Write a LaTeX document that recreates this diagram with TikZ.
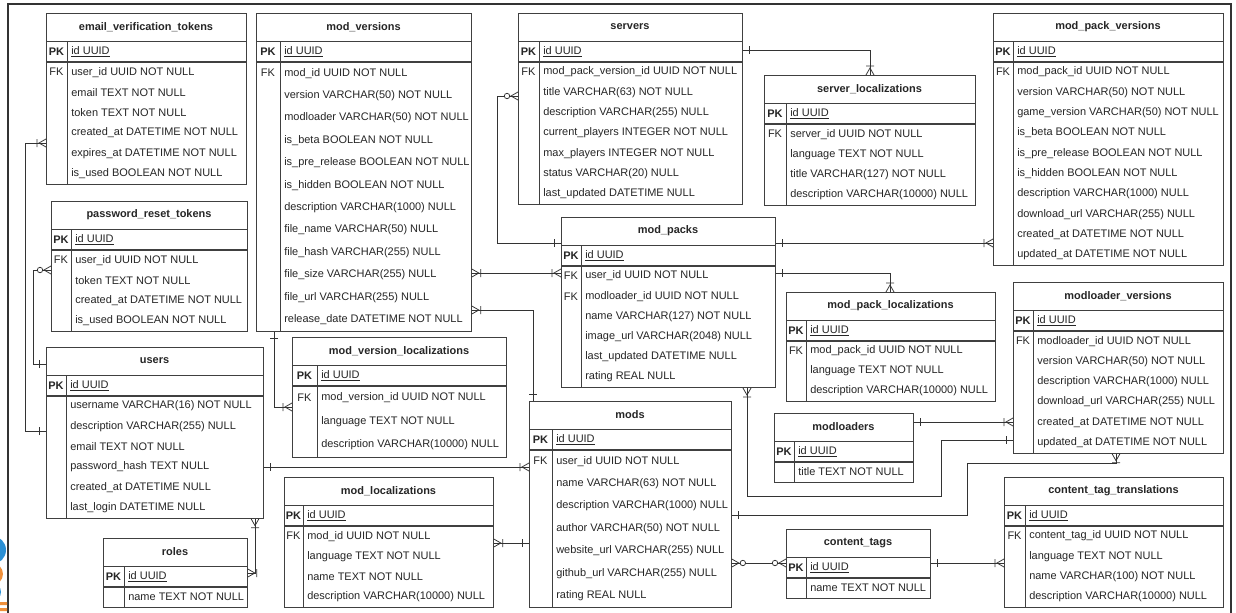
\documentclass[tikz,border=0pt]{standalone}
\usepackage{fontspec}
\setmainfont{Liberation Sans}
\usetikzlibrary{decorations.markings}

\newcommand{\erfont}{\fontsize{7.8}{9}\selectfont}

% name, x, y, width, key column, row height, rows, title, fields
\newcommand{\erbox}[9]{%
  \pgfmathsetmacro{\erh}{49+#7*#6}
  \node[tablebox, minimum width=#4*0.025cm, minimum height=\erh*0.025cm] (#1) at (#2,#3) {};
  \begin{scope}[shift={(#2,#3)}]
    \draw[tableline] (0,28) -- (#4,28) (#5,28) -- (#5,\erh);
    \draw[pkline] (0,49) -- (#4,49);
    \node[titletext] (#1-t) at (#4/2,14) {#8};
    \node[keytext] (#1-pk) at (#5/2,38.5) {\textbf{PK}};
    \node[fieldtext] (#1-id) at (#5+4,38.5) {\underline{id UUID}};
    \foreach \erkey/\erfield [count=\i] in {#9}
      \node[keytext] (#1-k\i) at (#5/2,{49+(\i-0.5)*#6}) {\erkey}
        node[fieldtext] (#1-f\i) at (#5+4,{49+(\i-0.5)*#6}) {\erfield};
  \end{scope}
}

\begin{document}
\begin{tikzpicture}[x=0.025cm, y=-0.025cm]
  \definecolor{logoblue}{HTML}{2B8FD3}
  \definecolor{logoorange}{HTML}{F0903A}
  \tikzset{
    tablebox/.style={draw=black!75, fill=white, line width=0.6pt, inner sep=0pt, anchor=north west},
    tableline/.style={draw=black!75, line width=0.6pt},
    pkline/.style={draw=black!75, line width=1pt},
    titletext/.style={font=\erfont\bfseries, text=black!85, inner sep=0pt},
    keytext/.style={font=\erfont, text=black!85, inner sep=0pt},
    fieldtext/.style={font=\erfont, text=black!85, inner sep=0pt, anchor=west},
    rel/.style={draw=black!80, line width=0.55pt},
    erline/.style={draw=black!80, line width=0.55pt},
    mk/.style 2 args={postaction={decorate, decoration={markings, mark=at position #1 with {#2}}}},
    start one/.style={mk={0}{\draw[erline] (7,-4) -- (7,4);}},
    end one/.style={mk={1}{\draw[erline] (-7,-4) -- (-7,4);}},
    start onemany/.style={mk={0}{\draw[erline] (0,-4) -- (7,0) -- (0,4) (9,-4) -- (9,4);}},
    end onemany/.style={mk={1}{\draw[erline] (0,-4) -- (-7,0) -- (0,4) (-9,-4) -- (-9,4);}},
    start zeromany/.style={mk={0}{\draw[erline] (0,-4) -- (7,0) -- (0,4); \filldraw[erline, fill=white] (11,0) circle (2.7);}},
    end zeromany/.style={mk={1}{\draw[erline] (0,-4) -- (-7,0) -- (0,4); \filldraw[erline, fill=white] (-11,0) circle (2.7);}}
  }
  \useasboundingbox (0,0) rectangle (1236,612);

  % frame and logo
  \draw[black!80, line width=1.2pt] (8,640) -- (8,4) -- (1231,4) -- (1231,640);
  \begin{scope}
    \clip (0,530) rectangle (7,612);
    \fill[logoblue] (-8,550) circle (14);
    \fill[logoorange] (-8,574) circle (11);
    \fill[logoblue] (-8,592) circle (9);
    \fill[logoorange] (0,602) rectangle (7,605) (0,608) rectangle (7,611);
  \end{scope}

  \erbox{evt}{46}{13}{200}{21}{20.3}{6}{email\_verification\_tokens}{FK/user\_id UUID NOT NULL, /email TEXT NOT NULL, /token TEXT NOT NULL, /created\_at DATETIME NOT NULL, /expires\_at DATETIME NOT NULL, /is\_used BOOLEAN NOT NULL}
  \erbox{modver}{256}{13}{215}{24}{22.4}{12}{mod\_versions}{FK/mod\_id UUID NOT NULL, /version VARCHAR(50) NOT NULL, /modloader VARCHAR(50) NOT NULL, /is\_beta BOOLEAN NOT NULL, /is\_pre\_release BOOLEAN NOT NULL, /is\_hidden BOOLEAN NOT NULL, /description VARCHAR(1000) NULL, /file\_name VARCHAR(50) NULL, /file\_hash VARCHAR(255) NULL, /file\_size VARCHAR(255) NULL, /file\_url VARCHAR(255) NULL, /release\_date DATETIME NOT NULL}
  \erbox{servers}{518}{13}{224}{21}{20.3}{7}{servers}{FK/mod\_pack\_version\_id UUID NOT NULL, /title VARCHAR(63) NOT NULL, /description VARCHAR(255) NULL, /current\_players INTEGER NOT NULL, /max\_players INTEGER NOT NULL, /status VARCHAR(20) NULL, /last\_updated DATETIME NULL}
  \erbox{serverloc}{764}{75}{211}{22}{20.3}{4}{server\_localizations}{FK/server\_id UUID NOT NULL, /language TEXT NOT NULL, /title VARCHAR(127) NOT NULL, /description VARCHAR(10000) NULL}
  \erbox{mpver}{993}{13}{230}{20}{20.3}{10}{mod\_pack\_versions}{FK/mod\_pack\_id UUID NOT NULL, /version VARCHAR(50) NOT NULL, /game\_version VARCHAR(50) NOT NULL, /is\_beta BOOLEAN NOT NULL, /is\_pre\_release BOOLEAN NOT NULL, /is\_hidden BOOLEAN NOT NULL, /description VARCHAR(1000) NULL, /download\_url VARCHAR(255) NULL, /created\_at DATETIME NOT NULL, /updated\_at DATETIME NOT NULL}
  \erbox{prt}{51}{201}{196}{20}{20.3}{4}{password\_reset\_tokens}{FK/user\_id UUID NOT NULL, /token TEXT NOT NULL, /created\_at DATETIME NOT NULL, /is\_used BOOLEAN NOT NULL}
  \erbox{users}{46}{347}{217}{20}{20.3}{6}{users}{/username VARCHAR(16) NOT NULL, /description VARCHAR(255) NULL, /email TEXT NOT NULL, /password\_hash TEXT NULL, /created\_at DATETIME NULL, /last\_login DATETIME NULL}
  \erbox{roles}{103}{538}{144}{21}{20}{1}{roles}{/name TEXT NOT NULL}
  \erbox{modverloc}{292}{337}{214}{25}{23.5}{3}{mod\_version\_localizations}{FK/mod\_version\_id UUID NOT NULL, /language TEXT NOT NULL, /description VARCHAR(10000) NULL}
  \erbox{modloc}{284}{477}{209}{19}{20.3}{4}{mod\_localizations}{FK/mod\_id UUID NOT NULL, /language TEXT NOT NULL, /name TEXT NOT NULL, /description VARCHAR(10000) NULL}
  \erbox{mpacks}{561}{217}{214}{20}{20.2}{6}{mod\_packs}{FK/user\_id UUID NOT NULL, FK/modloader\_id UUID NOT NULL, /name VARCHAR(127) NOT NULL, /image\_url VARCHAR(2048) NULL, /last\_updated DATETIME NULL, /rating REAL NULL}
  \erbox{mpackloc}{786}{292}{209}{20}{20}{3}{mod\_pack\_localizations}{FK/mod\_pack\_id UUID NOT NULL, /language TEXT NOT NULL, /description VARCHAR(10000) NULL}
  \erbox{modloaders}{774}{413}{139}{20}{20}{1}{modloaders}{/title TEXT NOT NULL}
  \erbox{mlver}{1013}{282}{210}{20}{20.3}{6}{modloader\_versions}{FK/modloader\_id UUID NOT NULL, /version VARCHAR(50) NOT NULL, /description VARCHAR(1000) NULL, /download\_url VARCHAR(255) NULL, /created\_at DATETIME NOT NULL, /updated\_at DATETIME NOT NULL}
  \erbox{mods}{529}{401}{202}{23}{22.4}{7}{mods}{FK/user\_id UUID NOT NULL, /name VARCHAR(63) NOT NULL, /description VARCHAR(1000) NULL, /author VARCHAR(50) NOT NULL, /website\_url VARCHAR(255) NULL, /github\_url VARCHAR(255) NULL, /rating REAL NULL}
  \erbox{ctags}{786}{529}{144}{20}{20}{1}{content\_tags}{/name TEXT NOT NULL}
  \erbox{cttrans}{1004}{477}{219}{21}{20.3}{4}{content\_tag\_translations}{FK/content\_tag\_id UUID NOT NULL, /language TEXT NOT NULL, /name VARCHAR(100) NOT NULL, /description VARCHAR(10000) NULL}

  % relations
  \draw[rel, start one, end onemany] (users.west |- 0,431) -- ++(-21,0) |- (evt.west |- 0,143);
  \draw[rel, start one, end zeromany] (users.west |- 0,364) -- ++(-13,0) |- (prt.west |- 0,270);
  \draw[rel, start one, end onemany] (modver.south -| 274,0) |- (modverloc.west |- 0,407);
  \draw[rel, start one, end onemany] (users.east |- 0,467) -- (mods.west |- 0,467);
  \draw[rel, start onemany, end onemany] (users.south -| 255,0) |- (roles.east |- 0,573);
  \draw[rel, start onemany, end onemany] (modver.east |- 0,273) -- (mpacks.west |- 0,273);
  \draw[rel, start one, end onemany] (mods.north -| 533,0) |- (modver.east |- 0,310);
  \draw[rel, start zeromany, end one] (servers.west |- 0,96) -- ++(-21,0) |- (mpacks.west |- 0,243);
  \draw[rel, start one, end onemany] (mpacks.east |- 0,243) -- (mpver.west |- 0,243);
  \draw[rel, start one, end onemany] (servers.east |- 0,50) -| (serverloc.north -| 870,0);
  \draw[rel, start one, end onemany] (mpacks.east |- 0,273) -| (mpackloc.north -| 890,0);
  \draw[rel, start onemany, end one] (mpacks.south -| 747,0) |- (941,496) |- (mlver.west |- 0,440);
  \draw[rel, start one, end onemany] (modloaders.east |- 0,422) -- (mlver.west |- 0,422);
  \draw[rel, start onemany, end one] (mlver.south -| 1116,0) |- (967,463) |- (mods.east |- 0,515);
  \draw[rel, start zeromany, end zeromany] (mods.east |- 0,563) -- (ctags.west |- 0,563);
  \draw[rel, start one, end onemany] (ctags.east |- 0,563) -- (cttrans.west |- 0,563);
  \draw[rel, start one, end onemany] (mods.west |- 0,543) -- (modloc.east |- 0,543);
\end{tikzpicture}
\end{document}
